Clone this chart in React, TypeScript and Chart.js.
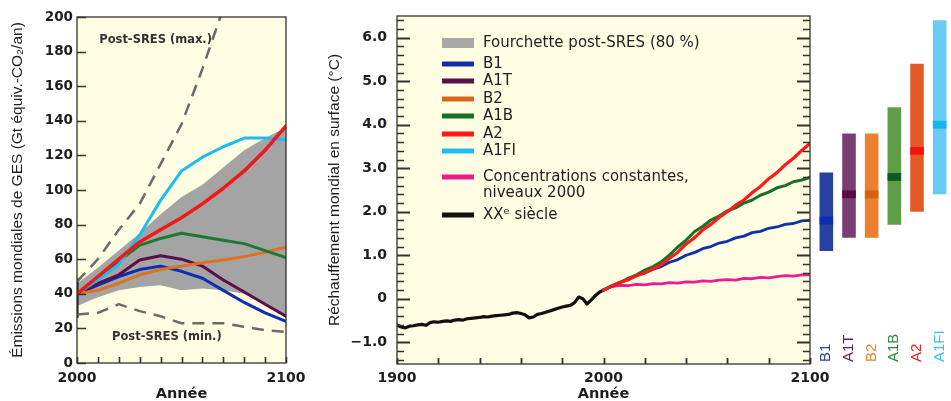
import React, { useEffect, useRef } from 'react';
import { Chart, registerables } from 'chart.js';
Chart.register(...registerables);

// ---------------- Left panel: GHG emissions ----------------
const emisYears = [2000, 2010, 2020, 2030, 2040, 2050, 2060, 2070, 2080, 2090, 2100];
const emisB1 = [40, 45, 50, 54, 56, 53, 49, 42, 35, 29, 24];
const emisA1T = [40, 46, 51, 59.5, 62, 60, 56, 48, 41, 34, 27];
const emisB2 = [40, 42, 46, 51, 54, 56, 58, 59.5, 61.5, 64, 67];
const emisA1B = [40, 49, 59, 68, 72, 75, 73, 71, 69, 65, 61];
const emisA2 = [40, 50, 60, 70, 77, 84, 92, 101, 111, 123, 137];
const emisA1FI = [40, 48, 57, 74, 94, 111, 119, 125, 130, 130, 129];
const emisBandHigh = [46, 55, 65, 75, 86, 96, 103, 113, 123, 130, 136];
const emisBandLow = [33, 38, 42, 44, 45, 42, 43, 42, 40, 34, 26];
const emisMaxYears = [2000, 2010, 2020, 2030, 2040, 2050, 2060, 2070];
const emisMax = [47, 60, 77, 92, 115, 138, 170, 205];
const emisMin = [28, 29, 34, 30, 27, 23, 23, 23, 21, 19, 18];
const emisRange2000 = [26, 49];
const emisYTicks = [0, 20, 40, 60, 80, 100, 120, 140, 160, 180, 200];
const emisXTickLabels = [2000, 2100];
const emisXTickMarks = [2000, 2010, 2020, 2030, 2040, 2050, 2060, 2070, 2080, 2090, 2100];
const emisNotes = ['Post-SRES (max.)', 'Post-SRES (min.)'];
const emisNoteAt = [[2037.6, 186.5], [2043, 15]];

// ---------------- Middle panel: temperature ----------------
const histYears = [1900, 1902, 1904, 1906, 1908, 1910, 1912, 1914, 1916, 1918, 1920, 1922, 1924, 1926, 1928, 1930, 1932, 1934, 1936, 1938, 1940, 1942, 1944, 1946, 1948, 1950, 1952, 1954, 1956, 1958, 1960, 1962, 1964, 1966, 1968, 1970, 1972, 1974, 1976, 1978, 1980, 1982, 1984, 1986, 1988, 1990, 1992, 1994, 1996, 1998, 2000];
const histTemp = [-0.60, -0.65, -0.67, -0.63, -0.62, -0.60, -0.59, -0.61, -0.55, -0.53, -0.54, -0.52, -0.51, -0.52, -0.49, -0.48, -0.49, -0.46, -0.45, -0.44, -0.43, -0.41, -0.42, -0.40, -0.39, -0.38, -0.37, -0.36, -0.33, -0.32, -0.34, -0.37, -0.44, -0.42, -0.36, -0.34, -0.31, -0.28, -0.25, -0.22, -0.19, -0.17, -0.15, -0.09, 0.04, 0.00, -0.12, -0.03, 0.07, 0.15, 0.20];
const projYears = [2000, 2004, 2008, 2012, 2016, 2020, 2024, 2028, 2032, 2036, 2040, 2044, 2048, 2052, 2056, 2060, 2064, 2068, 2072, 2076, 2080, 2084, 2088, 2092, 2096, 2100];
const tempA2 = [0.20, 0.29, 0.38, 0.44, 0.53, 0.60, 0.69, 0.78, 0.93, 1.07, 1.26, 1.40, 1.58, 1.71, 1.87, 2.00, 2.15, 2.27, 2.44, 2.58, 2.76, 2.90, 3.08, 3.23, 3.41, 3.57];
const tempA1B = [0.20, 0.30, 0.37, 0.47, 0.55, 0.66, 0.74, 0.85, 1.01, 1.19, 1.35, 1.54, 1.66, 1.81, 1.90, 2.02, 2.09, 2.20, 2.27, 2.38, 2.45, 2.55, 2.60, 2.69, 2.73, 2.79];
const tempB1 = [0.20, 0.28, 0.38, 0.44, 0.54, 0.59, 0.68, 0.74, 0.84, 0.90, 1.00, 1.06, 1.15, 1.20, 1.28, 1.32, 1.40, 1.44, 1.52, 1.55, 1.62, 1.65, 1.71, 1.73, 1.79, 1.80];
const tempConst = [0.20, 0.28, 0.31, 0.30, 0.33, 0.32, 0.35, 0.34, 0.37, 0.36, 0.39, 0.38, 0.41, 0.40, 0.43, 0.44, 0.43, 0.47, 0.46, 0.49, 0.48, 0.51, 0.53, 0.52, 0.55, 0.55];
const tempYTickLabels = [-1, 0, 1, 2, 3, 4, 5, 6];
const tempYMinorTicks = [-1.4, -1.2, -0.8, -0.6, -0.4, -0.2, 0.2, 0.4, 0.6, 0.8, 1.2, 1.4, 1.6, 1.8, 2.2, 2.4, 2.6, 2.8, 3.2, 3.4, 3.6, 3.8, 4.2, 4.4, 4.6, 4.8, 5.2, 5.4, 5.6, 5.8, 6.2, 6.4];
const tempXTickLabels = [1900, 2000, 2100];
const tempXTickMarks = [1900, 1920, 1940, 1960, 1980, 2000, 2020, 2040, 2060, 2080, 2100];
const legendLabels: (string | string[])[] = ['Fourchette post-SRES (80 %)', 'B1', 'A1T', 'B2', 'A1B', 'A2', 'A1FI', ['Concentrations constantes,', 'niveaux 2000'], 'XXᵉ siècle'];
const legendColors = ['#a8a8a8', '#1030a8', '#5a0e4a', '#d8671c', '#16702a', '#ff1a1a', '#22bbef', '#ec1c8c', '#111111'];

// ---------------- Right bars: likely ranges for 2090-2099 ----------------
const scenarios = ['B1', 'A1T', 'B2', 'A1B', 'A2', 'A1FI'];
const scenarioBest = [1.8, 2.4, 2.4, 2.8, 3.4, 4.0];
const scenarioLow = [1.1, 1.4, 1.4, 1.7, 2.0, 2.4];
const scenarioHigh = [2.9, 3.8, 3.8, 4.4, 5.4, 6.4];

// ---------------- styles ----------------
const CREAM = '#fffde2';
const FRAME = '#333333';
const TXT = '#1e1e1e';
const barLight = ['#2a40a0', '#7a3f72', '#ec802e', '#5f9e48', '#e45a26', '#66ccf6'];
const barDark = ['#0a2eb0', '#5a0a48', '#d6620e', '#0e5a1c', '#ff1010', '#14b8f0'];
const barLabelColors = ['#2a40a0', '#5e1e5e', '#ec7f2c', '#2a8a3a', '#ee2020', '#40c0f0'];
const BEST_HALF = 0.09;
const legendRowY = [43, 64, 81, 99, 116, 134, 151, 177, 215];

const tickFont = (size: number) => ({ family: 'DejaVu Sans', size, weight: 'bold' as const });

function pts(xs: number[], ys: number[]) {
  return xs.map((x, i) => ({ x, y: ys[i] }));
}

function drawTicks(ctx: CanvasRenderingContext2D, chart: any, axis: string, values: number[], len: number, side: string) {
  const s = chart.scales[axis];
  const a = chart.chartArea;
  ctx.beginPath();
  for (const v of values) {
    const p = Math.round(s.getPixelForValue(v)) + 0.5;
    if (side === 'left') { ctx.moveTo(a.left, p); ctx.lineTo(a.left + len, p); }
    else if (side === 'right') { ctx.moveTo(a.right, p); ctx.lineTo(a.right - len, p); }
    else { ctx.moveTo(p, a.bottom); ctx.lineTo(p, a.bottom - len); }
  }
  ctx.stroke();
}

const creamPlugin = {
  id: 'cream',
  beforeDraw(chart: any) {
    const { ctx, chartArea: a } = chart;
    ctx.save();
    ctx.fillStyle = CREAM;
    ctx.fillRect(a.left, a.top, a.right - a.left, a.bottom - a.top);
    ctx.restore();
  },
};

function line(xs: number[], ys: number[], color: string, width: number, extra: any = {}) {
  return {
    data: pts(xs, ys), borderColor: color, borderWidth: width, pointRadius: 0,
    fill: false, tension: 0, borderJoinStyle: 'round', borderCapStyle: 'round', ...extra,
  };
}

export default function App() {
  const leftRef = useRef<HTMLCanvasElement>(null);
  const midRef = useRef<HTMLCanvasElement>(null);
  const barRef = useRef<HTMLCanvasElement>(null);

  useEffect(() => {
    document.body.style.margin = '0';
    Chart.defaults.font.family = 'DejaVu Sans';
    Chart.defaults.color = TXT;

    const leftFrame = {
      id: 'leftFrame',
      afterDatasetsDraw(chart: any) {
        const { ctx, chartArea: a } = chart;
        ctx.save();
        ctx.strokeStyle = FRAME;
        ctx.lineWidth = 1.3;
        ctx.strokeRect(a.left, a.top, a.right - a.left, a.bottom - a.top);
        ctx.lineWidth = 1.6;
        drawTicks(ctx, chart, 'y', emisYTicks, 9, 'left');
        drawTicks(ctx, chart, 'x', emisXTickMarks, 6, 'bottom');
        ctx.fillStyle = '#333';
        ctx.font = 'bold 11.5px "DejaVu Sans"';
        ctx.textAlign = 'center';
        ctx.textBaseline = 'middle';
        emisNotes.forEach((t, i) => {
          ctx.fillText(t, chart.scales.x.getPixelForValue(emisNoteAt[i][0]), chart.scales.y.getPixelForValue(emisNoteAt[i][1]));
        });
        ctx.restore();
      },
    };

    const left = new Chart(leftRef.current!, {
      type: 'line',
      data: {
        datasets: [
          line(emisYears, emisA2, '#f01818', 3.5),
          line(emisYears, emisA1FI, '#1bbcf0', 3),
          line(emisYears, emisA1B, '#1e7a33', 3),
          line(emisYears, emisB2, '#e07020', 3),
          line(emisYears, emisA1T, '#5b0e4b', 3),
          line(emisYears, emisB1, '#0b2fb0', 3),
          line(emisMaxYears, emisMax, '#6a6a6a', 2.5, { borderDash: [12, 8], borderCapStyle: 'butt' }),
          line(emisYears, emisMin, '#6a6a6a', 2.5, { borderDash: [12, 8], borderCapStyle: 'butt' }),
          line([2000, 2000], emisRange2000, '#111', 3, { borderCapStyle: 'butt' }),
          { data: pts(emisYears, emisBandHigh), borderWidth: 0, pointRadius: 0, fill: '+1', backgroundColor: '#a4a4a4', tension: 0 },
          { data: pts(emisYears, emisBandLow), borderWidth: 0, pointRadius: 0, fill: false, tension: 0 },
        ] as any,
      },
      options: {
        animation: false, responsive: false, events: [],
        layout: { padding: { left: 0, right: 24, top: 17, bottom: 0 } },
        plugins: { legend: { display: false }, tooltip: { enabled: false } },
        scales: {
          x: {
            type: 'linear', min: 2000, max: 2100,
            grid: { display: false, drawTicks: false }, border: { display: false },
            ticks: { font: tickFont(14), color: TXT, padding: 7, maxRotation: 0, autoSkip: false, callback: (v: any) => String(v) },
            afterBuildTicks: (s: any) => { s.ticks = emisXTickLabels.map((v) => ({ value: v })); },
            afterFit: (s: any) => { s.height = 38; s.paddingLeft = 0; s.paddingRight = 0; },
            title: { display: true, text: 'Année', color: TXT, font: { family: 'DejaVu Sans', size: 14.5, weight: 'bold', lineHeight: 1 }, padding: { top: 0, bottom: 0 } },
          },
          y: {
            min: 0, max: 200,
            grid: { display: false, drawTicks: false }, border: { display: false },
            ticks: { font: tickFont(13.5), color: TXT, padding: 4, autoSkip: false, callback: (v: any) => String(v) },
            afterBuildTicks: (s: any) => { s.ticks = emisYTicks.map((v) => ({ value: v })); },
            afterFit: (s: any) => { s.width = 77; s.paddingTop = 0; s.paddingBottom = 0; },
            title: { display: true, text: 'Émissions mondiales de GES (Gt équiv.-CO₂/an)', color: TXT, font: { family: 'Liberation Sans', size: 15.5, lineHeight: 1.2 }, padding: { top: 8.7, bottom: 0 } },
          },
        },
      } as any,
      plugins: [creamPlugin, leftFrame],
    });

    const midFrame = {
      id: 'midFrame',
      afterDraw(chart: any) {
        const { ctx, chartArea: a } = chart;
        ctx.save();
        ctx.strokeStyle = FRAME;
        ctx.lineWidth = 1.3;
        ctx.strokeRect(a.left, a.top, a.right - a.left, a.bottom - a.top);
        ctx.lineWidth = 1.8;
        drawTicks(ctx, chart, 'y', tempYTickLabels, 13, 'left');
        drawTicks(ctx, chart, 'y', tempYTickLabels, 13, 'right');
        ctx.lineWidth = 1.5;
        drawTicks(ctx, chart, 'y', tempYMinorTicks, 7, 'left');
        drawTicks(ctx, chart, 'y', tempYMinorTicks, 7, 'right');
        ctx.lineWidth = 1.8;
        drawTicks(ctx, chart, 'x', tempXTickMarks, 6, 'bottom');
        // legend
        const sx = a.left + 45;
        const tx = a.left + 86;
        ctx.font = '15px "DejaVu Sans"';
        ctx.textAlign = 'left';
        ctx.textBaseline = 'middle';
        legendLabels.forEach((lab, i) => {
          const y = legendRowY[i];
          ctx.fillStyle = legendColors[i];
          if (i === 0) ctx.fillRect(sx, y - 5, 32, 10);
          else ctx.fillRect(sx, y - 2.5, 32, 5);
          ctx.fillStyle = TXT;
          const lines = Array.isArray(lab) ? lab : [lab];
          lines.forEach((t, k) => ctx.fillText(t, tx, y + k * 16));
        });
        ctx.restore();
      },
    };

    const mid = new Chart(midRef.current!, {
      type: 'line',
      data: {
        datasets: [
          line(projYears, tempA2, '#ff1a1a', 3.2),
          line(projYears, tempA1B, '#16702a', 3),
          line(projYears, tempB1, '#1030a8', 2.8),
          line(projYears, tempConst, '#ec1c8c', 2.8),
          line(histYears, histTemp, '#111111', 3.2),
        ] as any,
      },
      options: {
        animation: false, responsive: false, events: [],
        layout: { padding: { left: 0, right: 30, top: 16, bottom: 0 } },
        plugins: { legend: { display: false }, tooltip: { enabled: false } },
        scales: {
          x: {
            type: 'linear', min: 1900, max: 2100,
            grid: { display: false, drawTicks: false }, border: { display: false },
            ticks: { font: tickFont(14), color: TXT, padding: 6, maxRotation: 0, autoSkip: false, callback: (v: any) => String(v) },
            afterBuildTicks: (s: any) => { s.ticks = tempXTickLabels.map((v) => ({ value: v })); },
            afterFit: (s: any) => { s.height = 37; s.paddingLeft = 0; s.paddingRight = 0; },
            title: { display: true, text: 'Année', color: TXT, font: { family: 'DejaVu Sans', size: 14.5, weight: 'bold', lineHeight: 1 }, padding: { top: 0, bottom: 0 } },
          },
          y: {
            min: -1.5, max: 6.5,
            grid: { display: false, drawTicks: false }, border: { display: false },
            ticks: {
              font: tickFont(14), color: TXT, padding: 10, autoSkip: false,
              callback: (v: any) => (v === 0 ? '0' : v < 0 ? '−' + Math.abs(v).toFixed(1) : Number(v).toFixed(1)),
            },
            afterBuildTicks: (s: any) => { s.ticks = tempYTickLabels.map((v) => ({ value: v })); },
            afterFit: (s: any) => { s.width = 87; s.paddingTop = 0; s.paddingBottom = 0; },
            title: { display: true, text: 'Réchauffement mondial en surface (°C)', color: TXT, font: { family: 'Liberation Sans', size: 15.5, lineHeight: 1.2 }, padding: { top: 15.7, bottom: 0 } },
          },
        },
      } as any,
      plugins: [creamPlugin, midFrame],
    });

    const barLabels = {
      id: 'barLabels',
      afterDraw(chart: any) {
        const { ctx } = chart;
        const xs = chart.scales.x;
        ctx.save();
        ctx.font = '15px "Liberation Sans"';
        ctx.textAlign = 'left';
        ctx.textBaseline = 'middle';
        scenarios.forEach((s, i) => {
          ctx.save();
          ctx.translate(xs.getPixelForValue(i), 362);
          ctx.rotate(-Math.PI / 2);
          ctx.fillStyle = barLabelColors[i];
          ctx.fillText(s, 0, 0);
          ctx.restore();
        });
        ctx.restore();
      },
    };

    const bars = new Chart(barRef.current!, {
      type: 'bar',
      data: {
        labels: scenarios,
        datasets: [
          {
            data: scenarioBest.map((b) => [b - BEST_HALF, b + BEST_HALF]),
            backgroundColor: barDark, grouped: false, barPercentage: 0.6, categoryPercentage: 1,
            borderWidth: 0, order: 0,
          },
          {
            data: scenarioLow.map((l, i) => [l, scenarioHigh[i]]),
            backgroundColor: barLight, grouped: false, barPercentage: 0.6, categoryPercentage: 1,
            borderWidth: 0, order: 1,
          },
        ] as any,
      },
      options: {
        animation: false, responsive: false, events: [],
        layout: { padding: { left: 3, right: 0, top: 16, bottom: 37 } },
        plugins: { legend: { display: false }, tooltip: { enabled: false } },
        scales: {
          x: { display: false },
          y: { display: false, min: -1.5, max: 6.5 },
        },
      } as any,
      plugins: [barLabels],
    });

    return () => { left.destroy(); mid.destroy(); bars.destroy(); };
  }, []);

  return (
    <div style={{ position: 'relative', width: 951, height: 401, overflow: 'hidden', background: '#ffffff' }}>
      <canvas ref={leftRef} width={310} height={401} style={{ position: 'absolute', left: 0, top: 0 }} />
      <canvas ref={midRef} width={530} height={401} style={{ position: 'absolute', left: 310, top: 0 }} />
      <canvas ref={barRef} width={139} height={401} style={{ position: 'absolute', left: 812, top: 0 }} />
    </div>
  );
}
